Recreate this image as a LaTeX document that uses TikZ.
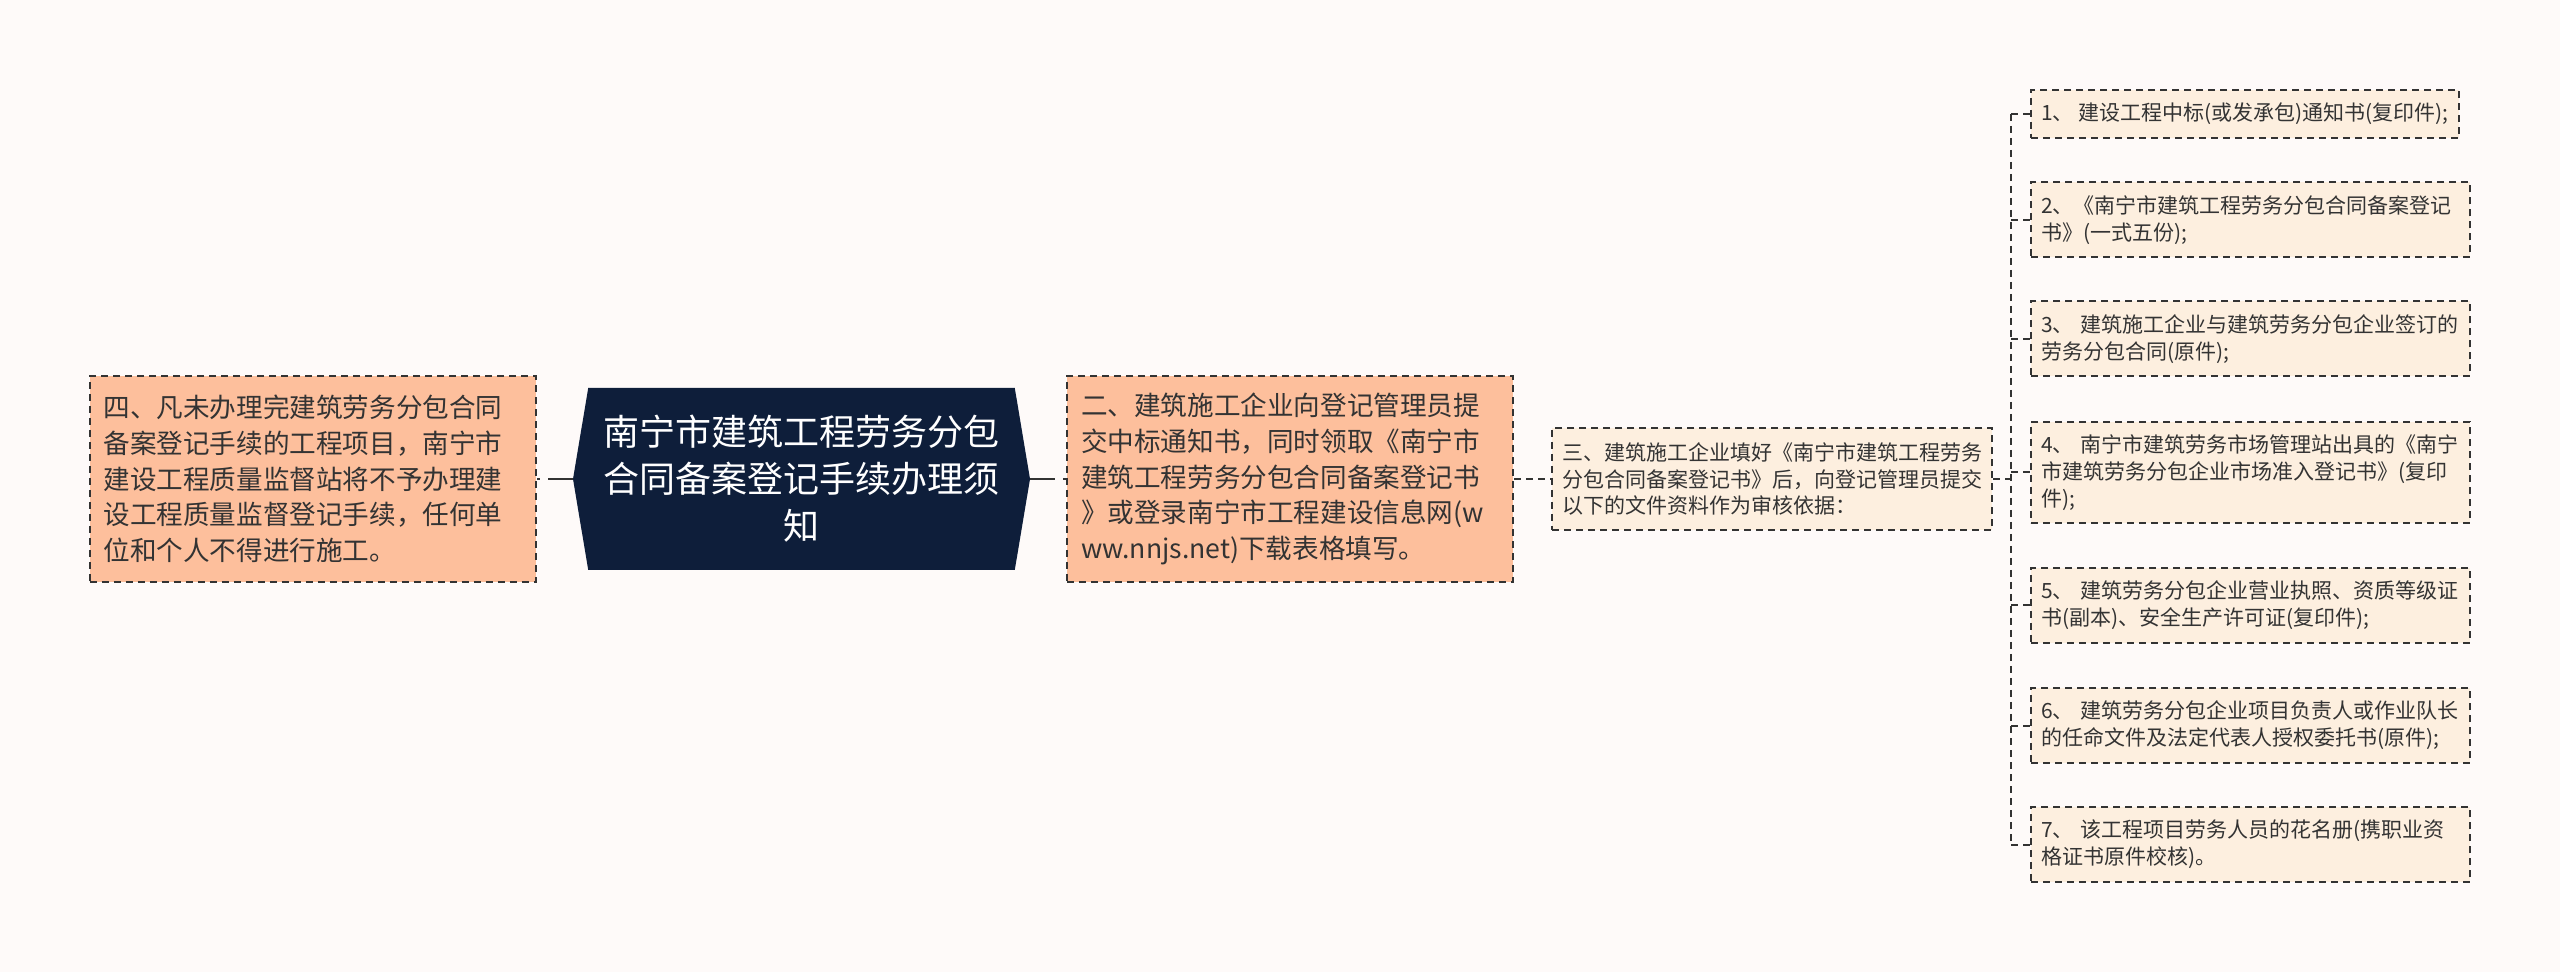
\documentclass[tikz,border=0pt]{standalone}
\usepackage{fontspec}
\usepackage{tikz}
\usetikzlibrary{shapes.symbols}
\newfontfamily\cjk{Noto Sans CJK SC}
\definecolor{bgpaper}{HTML}{FEFAF9}
\definecolor{peach}{HTML}{FDBF9C}
\definecolor{cream}{HTML}{FDEFDF}
\definecolor{navy}{HTML}{0E1E3A}
\definecolor{ink}{HTML}{333333}

\begin{document}
\begin{tikzpicture}[x=0.5pt,y=-0.5pt,
  dashline/.style={draw=ink,line width=1pt,dash pattern=on 3.5pt off 2.5pt},
  bigbox/.style={rectangle,dashline,fill=peach,text=ink,align=left,text width=209pt,
    inner xsep=7pt,minimum height=103pt,font=\cjk\fontsize{13.3}{17.9}\selectfont},
  smallbox/.style={rectangle,dashline,fill=cream,text=ink,align=left,text width=209.5pt,
    inner xsep=5pt,minimum height=37.5pt,font=\cjk\fontsize{10.5}{13.4}\selectfont},
  titlebox/.style={signal,signal to=west and east,signal pointer angle=161,fill=navy,
    text=white,align=center,text width=200pt,minimum width=228.5pt,minimum height=91pt,
    font=\cjk\fontsize{18}{23.5}\selectfont},
  link/.style={draw=ink,line width=1pt,dash pattern=on 12.5pt off 4pt}]
\useasboundingbox [fill=bgpaper] (0,0) rectangle (2560,972);
\node (title) at (801.5,479) [titlebox] {南宁市建筑工程劳务分包\\合同备案登记手续办理须\\知};
\node (four)  at (312.5,479) [bigbox] {四、凡未办理完建筑劳务分包合同\\备案登记手续的工程项目，南宁市\\建设工程质量监督站将不予办理建\\设工程质量监督登记手续，任何单\\位和个人不得进行施工。};
\node (two)   at (1290,479)  [bigbox] {二、建筑施工企业向登记管理员提\\交中标通知书，同时领取《南宁市\\建筑工程劳务分包合同备案登记书\\》或登录南宁市工程建设信息网(w\\ww.nnjs.net)下载表格填写。};
\node (three) at (1772,479)  [smallbox,text width=210pt,minimum height=51pt] {三、建筑施工企业填好《南宁市建筑工程劳务\\分包合同备案登记书》后，向登记管理员提交\\以下的文件资料作为审核依据：};
% documents to hand in
\node (doc1) at (2245,114)    [smallbox,text width={},minimum width=214pt,minimum height=24pt] {1、 建设工程中标(或发承包)通知书(复印件);};
\node (doc2) at (2250.5,220)  [smallbox] {2、《南宁市建筑工程劳务分包合同备案登记\\书》(一式五份);};
\node (doc3) at (2250.5,339)  [smallbox] {3、 建筑施工企业与建筑劳务分包企业签订的\\劳务分包合同(原件);};
\node (doc4) at (2250.5,472.5) [smallbox,minimum height=50.5pt] {4、 南宁市建筑劳务市场管理站出具的《南宁\\市建筑劳务分包企业市场准入登记书》(复印\\件);};
\node (doc5) at (2250.5,605.5) [smallbox] {5、 建筑劳务分包企业营业执照、资质等级证\\书(副本)、安全生产许可证(复印件);};
\node (doc6) at (2250.5,725.5) [smallbox] {6、 建筑劳务分包企业项目负责人或作业队长\\的任命文件及法定代表人授权委托书(原件);};
\node (doc7) at (2250.5,844.5) [smallbox] {7、 该工程项目劳务人员的花名册(携职业资\\格证书原件校核)。};
\coordinate (fork) at (2011,479);
\draw [link] (title.west) -- (four.east);
\draw [link] (title.east) -- (two.west);
\draw [dashline] (two.east) -- (three.west);
\draw [dashline] (three.east) -- (fork);
\draw [dashline] (fork |- doc1.west) -- (fork |- doc7.west);
\foreach \i in {1,...,7}
  \draw [dashline] (fork |- doc\i.west) -- (doc\i.west);
\end{tikzpicture}
\end{document}
